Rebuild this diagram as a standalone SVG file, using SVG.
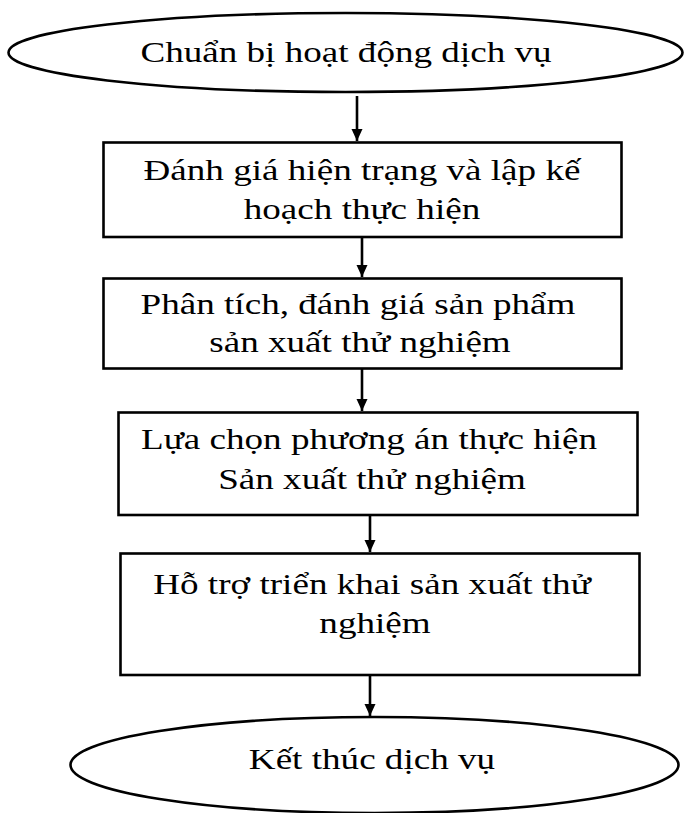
<svg xmlns="http://www.w3.org/2000/svg" width="684" height="813" viewBox="0 0 684 813">
<style>
.shape{fill:#fff;stroke:#000;stroke-width:2.6}
.lbl{font-family:"Liberation Serif","Times New Roman",serif;font-size:29px;fill:#000;text-anchor:middle}
.conn{stroke:#000;stroke-width:2.6;fill:none}
</style>
<defs>
<marker id="ah" markerUnits="userSpaceOnUse" markerWidth="12" markerHeight="12" refX="12" refY="6" orient="auto">
<path d="M0,0.5 L12,6 L0,11.5 z" fill="#000"/>
</marker>
</defs>
<rect width="684" height="813" fill="#fff"/>
<g id="start">
<ellipse class="shape" cx="345.5" cy="52.5" rx="337" ry="39.5"/>
<text class="lbl" transform="translate(346,62) scale(1.28,1)">Chuẩn bị hoạt động dịch vụ</text>
</g>
<g id="step1">
<rect class="shape" x="103.5" y="142.5" width="518" height="94.5"/>
<text class="lbl" transform="translate(362,180) scale(1.28,1)">Đánh giá hiện trạng và lập kế</text>
<text class="lbl" transform="translate(362,219) scale(1.28,1)">hoạch thực hiện</text>
</g>
<g id="step2">
<rect class="shape" x="103.5" y="278.5" width="518" height="90"/>
<text class="lbl" transform="translate(358,314) scale(1.28,1)">Phân tích, đánh giá sản phẩm</text>
<text class="lbl" transform="translate(360,352) scale(1.28,1)">sản xuất thử nghiệm</text>
</g>
<g id="step3">
<rect class="shape" x="118.5" y="412.5" width="519" height="102.5"/>
<text class="lbl" transform="translate(369,449) scale(1.28,1)">Lựa chọn phương án thực hiện</text>
<text class="lbl" transform="translate(372,489) scale(1.28,1)">Sản xuất thử nghiệm</text>
</g>
<g id="step4">
<rect class="shape" x="120.5" y="553.5" width="519" height="121.5"/>
<text class="lbl" transform="translate(372,594) scale(1.28,1)">Hỗ trợ triển khai sản xuất thử</text>
<text class="lbl" transform="translate(375,633) scale(1.28,1)">nghiệm</text>
</g>
<g id="end">
<ellipse class="shape" cx="374.5" cy="765" rx="304" ry="48"/>
<text class="lbl" transform="translate(372,769) scale(1.28,1)">Kết thúc dịch vụ</text>
</g>
<g id="connectors">
<line class="conn" x1="357" y1="96" x2="357" y2="141" marker-end="url(#ah)"/>
<line class="conn" x1="362" y1="237" x2="362" y2="277" marker-end="url(#ah)"/>
<line class="conn" x1="362" y1="368.5" x2="362" y2="411" marker-end="url(#ah)"/>
<line class="conn" x1="370" y1="515" x2="370" y2="552" marker-end="url(#ah)"/>
<line class="conn" x1="370" y1="675" x2="370" y2="716" marker-end="url(#ah)"/>
</g>
</svg>
